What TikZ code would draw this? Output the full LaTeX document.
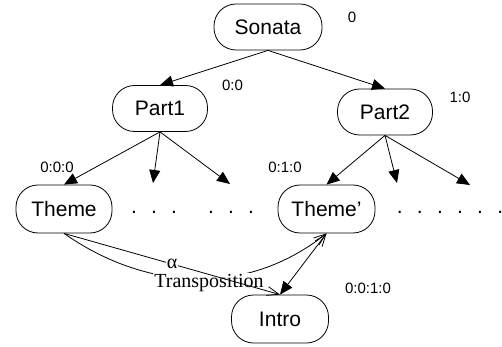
\documentclass[tikz,border=0pt]{standalone}
\usepackage{fontspec}
\setmainfont{Liberation Sans}
\newfontfamily\serifA{Liberation Serif}
\usetikzlibrary{arrows.meta}
\newcommand\mydotsp{\spaceskip 12.3pt\relax}
\begin{document}
\begin{tikzpicture}[x=1pt,y=-1pt,
 box/.style={draw, line width=0.8pt, rounded corners=22pt, inner sep=0pt, minimum height=46pt, font=\fontsize{21}{25}\selectfont},
 lbl/.style={inner sep=0pt, font=\fontsize{15}{18}\selectfont},
 dotrow/.style={inner sep=0pt, font=\fontsize{21}{25}\selectfont\mydotsp},
 ser/.style={inner sep=1pt, fill=white, font=\serifA\fontsize{20}{24}\selectfont},
 conn/.style={line width=0.8pt},
 tri/.style={-{Triangle[length=13pt,width=11pt]}},
 barb/.style={-{Straight Barb[length=12pt,width=9pt]}}
]
\useasboundingbox (0,0) rectangle (502,347);
% nodes
\node[box, minimum width=108pt] (sonata) at (268,27) {Sonata};
\node[box, minimum width=95pt] (part1) at (160,108.5) {Part1};
\node[box, minimum width=95pt] (part2) at (385,112) {Part2};
\node[box, minimum width=96pt, minimum height=48pt] (theme) at (64,209) {Theme};
\node[box, minimum width=97pt, minimum height=48pt] (themep) at (326.5,209) {Theme’};
\node[box, minimum width=97pt, minimum height=48pt] (intro) at (280,319) {Intro};
% labels
\node[lbl] (l0) at (352,17) {0};
\node[lbl] (l00) at (232.5,85) {0:0};
\node[lbl] (l10) at (460,97) {1:0};
\node[lbl] (l000) at (57,167) {0:0:0};
\node[lbl] (l010) at (285,167) {0:1:0};
\node[lbl] (l0010) at (368,288) {0:0:1:0};
% dots
\node[dotrow] (d1) at (154,212) {. . .};
\node[dotrow] (d2) at (231,212) {. . .};
\node[dotrow] (d3) at (450,212) {. . . . . .};
% free ends
\coordinate (p1b) at (153,183);
\coordinate (p1c) at (230,184);
\coordinate (p2b) at (397,183);
\coordinate (p2c) at (470,185);
% connectors
\draw[conn, tri] (sonata.south) -- (part1.north);
\draw[conn, tri] (sonata.south) -- (part2.north);
\draw[conn, tri] (part1.south) -- (theme.north);
\draw[conn, tri] (part1.south) -- (p1b);
\draw[conn, tri] (part1.south) -- (p1c);
\draw[conn, tri] (part2.south) -- (themep.north);
\draw[conn, tri] (part2.south) -- (p2b);
\draw[conn, tri] (part2.south) -- (p2c);
% transposition curve
\draw[conn, barb] (theme.south) .. controls (145,290) and (245,298) .. (themep.south);
\node[ser] (trans) at (209,283) {Transposition};
% alpha line
\draw[conn, barb] (theme.south) -- node[ser, pos=0.5] (alpha) {α} (intro.north);
% theme' - intro
\draw[conn, {Straight Barb[length=12pt,width=9pt]}-{Triangle[length=13pt,width=11pt]}] (themep.south) -- (intro.north);
\end{tikzpicture}
\end{document}
